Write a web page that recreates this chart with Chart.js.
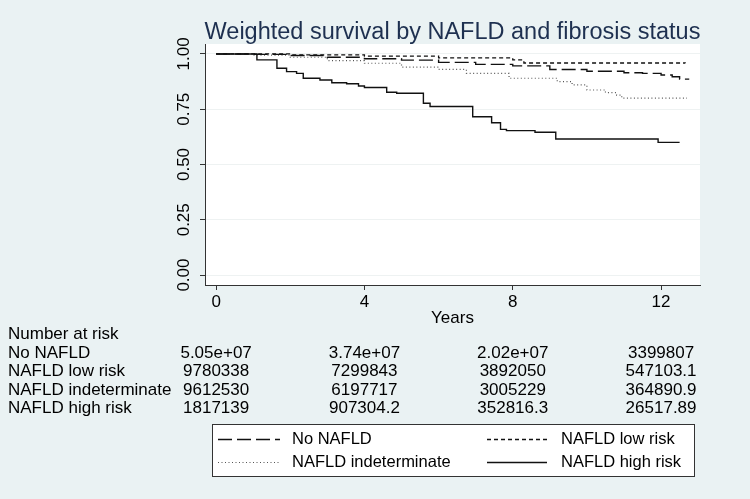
<!DOCTYPE html>
<html><head><meta charset="utf-8">
<script src="https://cdn.jsdelivr.net/npm/chart.js@4"></script>
<style>html,body{margin:0;padding:0;background:#eaf2f3;overflow:hidden}</style>
</head><body>
<canvas id="c" width="750" height="499"></canvas>
<script>
const titleText = 'Weighted survival by NAFLD and fibrosis status';
const xTitle = 'Years';
const xTicks = [0, 4, 8, 12];
const yTicks = [0, 0.25, 0.5, 0.75, 1];
const yTickLabels = ['0.00', '0.25', '0.50', '0.75', '1.00'];
const seriesNames = ['No NAFLD', 'NAFLD low risk', 'NAFLD indeterminate', 'NAFLD high risk'];

// Kaplan-Meier step values (time in years, survival)
const noNafldT = [0, 1, 2, 3, 4, 5, 6, 7, 8, 9, 10, 11, 11.5, 12, 12.3, 12.5, 12.76];
const noNafldS = [1, 0.998, 0.993, 0.985, 0.978, 0.972, 0.962, 0.953, 0.946, 0.93, 0.922, 0.915, 0.912, 0.905, 0.897, 0.886, 0.886];
const lowRiskT = [0, 2, 4, 6, 8, 8.3, 12.65];
const lowRiskS = [1, 0.996, 0.99, 0.982, 0.973, 0.959, 0.958];
const indetT = [0, 1, 2, 3, 4, 5, 6, 6.75, 7.9, 9.2, 9.6, 10, 10.5, 10.8, 10.94, 12.7];
const indetS = [1, 0.995, 0.985, 0.97, 0.958, 0.94, 0.93, 0.912, 0.89, 0.875, 0.86, 0.837, 0.825, 0.814, 0.80, 0.80];
const highRiskT = [0, 1.1, 1.64, 1.9, 2.17, 2.35, 2.8, 3.12, 3.52, 3.84, 4.0, 4.6, 4.87, 5.59, 5.77, 6.92, 7.43, 7.67, 7.83, 8.6, 9.16, 11.92, 12.5];
const highRiskS = [1, 0.973, 0.935, 0.92, 0.912, 0.89, 0.882, 0.87, 0.865, 0.855, 0.848, 0.827, 0.822, 0.777, 0.762, 0.716, 0.689, 0.659, 0.653, 0.646, 0.615, 0.600, 0.600];

// Number at risk table
const riskTitle = 'Number at risk';
const riskNoNafld = ['5.05e+07', '3.74e+07', '2.02e+07', '3399807'];
const riskLowRisk = ['9780338', '7299843', '3892050', '547103.1'];
const riskIndet = ['9612530', '6197717', '3005229', '364890.9'];
const riskHighRisk = ['1817139', '907304.2', '352816.3', '26517.89'];

const FONT = '"Liberation Sans", Arial, Helvetica, sans-serif';
const styles = [
  { dash: [14, 5], width: 1.4, color: '#111' },
  { dash: [4, 3], width: 1.3, color: '#111' },
  { dash: [1, 2.5], width: 1.2, color: '#555' },
  { dash: [], width: 1.4, color: '#111' }
];
const seriesT = [noNafldT, lowRiskT, indetT, highRiskT];
const seriesS = [noNafldS, lowRiskS, indetS, highRiskS];
const riskRows = [riskNoNafld, riskLowRisk, riskIndet, riskHighRisk];

const datasets = seriesNames.map((name, k) => ({
  label: name,
  data: seriesT[k].map((t, i) => ({ x: t, y: seriesS[k][i] })),
  borderColor: styles[k].color,
  borderWidth: styles[k].width,
  borderDash: styles[k].dash,
  pointRadius: 0,
  stepped: 'before',
  fill: false,
  tension: 0
}));

const extras = {
  id: 'extras',
  beforeDraw(chart) {
    const ctx = chart.ctx, a = chart.chartArea;
    ctx.save();
    ctx.fillStyle = '#eaf2f3';
    ctx.fillRect(0, 0, chart.width, chart.height);
    ctx.fillStyle = '#ffffff';
    ctx.fillRect(a.left, a.top, a.right - a.left, a.bottom - a.top);
    ctx.restore();
  },
  afterDraw(chart) {
    const ctx = chart.ctx, a = chart.chartArea;
    const xs = chart.scales.x, ys = chart.scales.y;
    ctx.save();
    // title
    ctx.fillStyle = '#1e3050';
    ctx.font = '23.5px ' + FONT;
    ctx.textAlign = 'center';
    ctx.textBaseline = 'middle';
    ctx.fillText(titleText, (a.left + a.right) / 2, 33);
    // y tick labels rotated
    ctx.fillStyle = '#000';
    ctx.font = '17px ' + FONT;
    yTicks.forEach((v, i) => {
      const y = ys.getPixelForValue(v);
      ctx.save();
      ctx.translate(a.left - 21, y);
      ctx.rotate(-Math.PI / 2);
      ctx.textAlign = 'center';
      ctx.textBaseline = 'middle';
      ctx.fillText(yTickLabels[i], 0, 0);
      ctx.restore();
    });
    // x axis title
    ctx.textAlign = 'center';
    ctx.textBaseline = 'middle';
    ctx.fillText(xTitle, (a.left + a.right) / 2, 318);
    // risk table
    ctx.textAlign = 'left';
    ctx.fillText(riskTitle, 8, 334);
    riskRows.forEach((row, r) => {
      const y = 353 + r * 18.5;
      ctx.textAlign = 'left';
      ctx.fillText(seriesNames[r], 8, y);
      ctx.textAlign = 'center';
      row.forEach((val, c) => {
        ctx.fillText(val, xs.getPixelForValue(xTicks[c]), y);
      });
    });
    // legend
    const bx = 212, by = 424, bw = 482, bh = 52;
    ctx.fillStyle = '#fff';
    ctx.fillRect(bx, by, bw, bh);
    ctx.strokeStyle = '#333';
    ctx.lineWidth = 1;
    ctx.setLineDash([]);
    ctx.strokeRect(bx + 0.5, by + 0.5, bw, bh);
    ctx.font = '16.5px ' + FONT;
    const pos = [[218, 280, 292, 439], [487, 547, 561, 439], [218, 280, 292, 462], [487, 547, 561, 462]];
    seriesNames.forEach((name, k) => {
      const p = pos[k];
      ctx.strokeStyle = styles[k].color;
      ctx.lineWidth = styles[k].width;
      ctx.setLineDash(styles[k].dash);
      ctx.beginPath();
      ctx.moveTo(p[0], p[3] + 0.5);
      ctx.lineTo(p[1], p[3] + 0.5);
      ctx.stroke();
      ctx.setLineDash([]);
      ctx.fillStyle = '#000';
      ctx.textAlign = 'left';
      ctx.fillText(name, p[2], p[3]);
    });
    ctx.restore();
  }
};

new Chart(document.getElementById('c'), {
  type: 'line',
  data: { datasets },
  options: {
    responsive: false,
    animation: false,
    devicePixelRatio: 1,
    layout: { padding: { top: 44, right: 50, left: 0, bottom: 0 } },
    plugins: { legend: { display: false }, title: { display: false }, tooltip: { enabled: false } },
    scales: {
      x: {
        type: 'linear', min: -0.3, max: 13.05,
        afterBuildTicks: s => { s.ticks = xTicks.map(v => ({ value: v })); },
        afterFit: s => { s.height = 214; },
        ticks: { font: { size: 17, family: FONT }, color: '#000', padding: 2, maxRotation: 0 },
        grid: { drawOnChartArea: false, drawTicks: true, tickLength: 5, tickColor: '#333' },
        border: { color: '#333', width: 1 },
        title: { display: false }
      },
      y: {
        type: 'linear', min: -0.045, max: 1.045,
        afterBuildTicks: s => { s.ticks = yTicks.map(v => ({ value: v })); },
        afterFit: s => { s.width = 205; },
        ticks: { display: false },
        grid: { color: '#eef2f2', lineWidth: 1, drawTicks: true, tickLength: 5, tickColor: '#333' },
        border: { color: '#333', width: 1 }
      }
    }
  },
  plugins: [extras]
});
</script>
</body></html>
